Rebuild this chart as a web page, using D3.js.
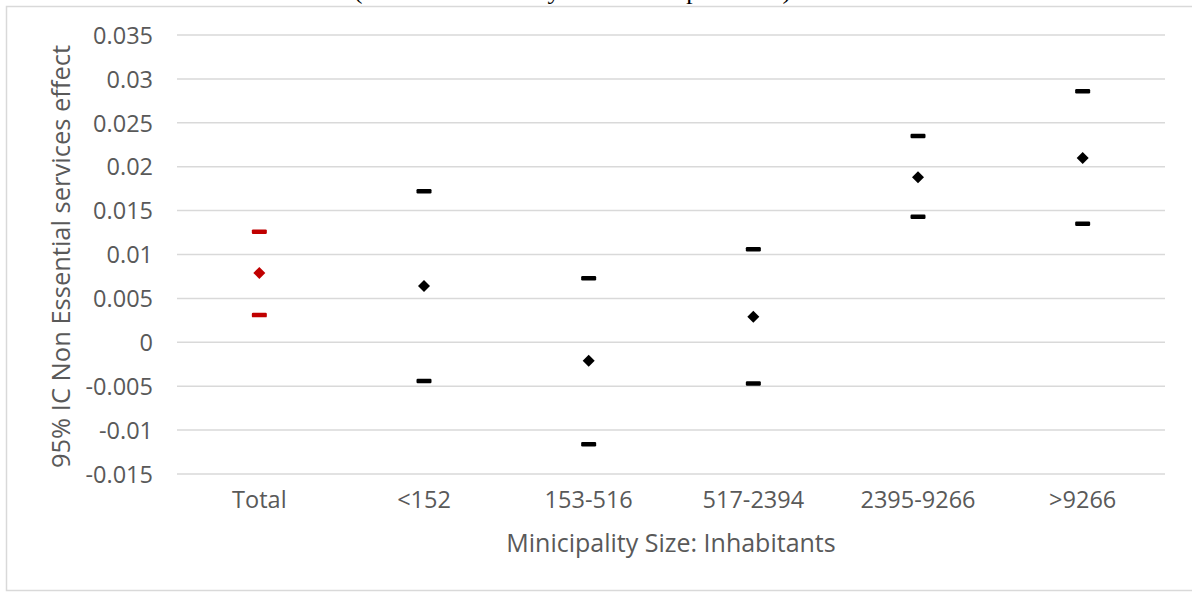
<!DOCTYPE html>
<html>
<head>
<meta charset="utf-8">
<script src="https://cdn.jsdelivr.net/npm/d3@7"></script>
<style>
  html, body { margin: 0; padding: 0; background: #fff; }
  svg { display: block; }
  text { font-family: "Open Sans", "Noto Sans", sans-serif; fill: #595959; }
</style>
</head>
<body>
<svg id="chart" width="1192" height="592"></svg>
<script>
// ---- data ----
const categories = ["Total", "<152", "153-516", "517-2394", "2395-9266", ">9266"];
const lowerCI   = [0.0031, -0.0044, -0.0116, -0.0047, 0.0143, 0.0135];
const estimate  = [0.0079, 0.0064, -0.0021, 0.0029, 0.0188, 0.0210];
const upperCI   = [0.0126, 0.0172, 0.0073, 0.0106, 0.0235, 0.0286];
const yTicks    = [-0.015, -0.01, -0.005, 0, 0.005, 0.01, 0.015, 0.02, 0.025, 0.03, 0.035];
const yTickLabels = ["-0.015", "-0.01", "-0.005", "0", "0.005", "0.01", "0.015", "0.02", "0.025", "0.03", "0.035"];
const xTitle = "Minicipality Size: Inhabitants";
const yTitle = "95% IC Non Essential services effect";
const topTitle = "(Estimated effect by Inhabitants per Town)";

const svg = d3.select("#chart");
const W = 1192, H = 592;
const plot = { left: 177, right: 1165, top: 35, bottom: 474 };

// outer chart border
svg.append("rect")
  .attr("x", 6.5).attr("y", 6.5)
  .attr("width", W + 10).attr("height", 584)
  .attr("fill", "none").attr("stroke", "#d9d9d9").attr("stroke-width", 1.5);

// title remnant, cut off by the top edge as in the reference
svg.append("text")
  .attr("x", 354).attr("y", -1)
  .attr("textLength", 437).attr("lengthAdjust", "spacingAndGlyphs")
  .style("font-family", "'Liberation Serif', serif")
  .style("font-size", "24px")
  .style("fill", "#000")
  .text(topTitle);

const x = d3.scaleBand().domain(categories).range([plot.left, plot.right]);
const y = d3.scaleLinear().domain([-0.015, 0.035]).range([plot.bottom, plot.top]);

// gridlines
svg.append("g")
  .selectAll("line").data(yTicks).join("line")
  .attr("x1", plot.left).attr("x2", plot.right)
  .attr("y1", d => y(d)).attr("y2", d => y(d))
  .attr("stroke", "#d9d9d9").attr("stroke-width", 1.5);

// y axis labels
const yAxis = d3.axisLeft(y).tickValues(yTicks)
  .tickFormat((d, i) => yTickLabels[i]).tickSize(0).tickPadding(0);
const gy = svg.append("g").attr("transform", `translate(153,0)`).call(yAxis);
gy.select(".domain").remove();
gy.selectAll("text").style("font-size", "23.5px").style("fill", "#595959")
  .style("font-family", "'Open Sans', sans-serif").attr("dy", "0.35em");

// x axis labels
const xAxis = d3.axisBottom(x).tickSize(0).tickPadding(0);
const gx = svg.append("g").attr("transform", `translate(0,${plot.bottom})`).call(xAxis);
gx.select(".domain").remove();
gx.selectAll("text").style("font-size", "23.5px").style("fill", "#595959")
  .style("font-family", "'Open Sans', sans-serif").attr("dy", null).attr("y", 34);

// axis titles
svg.append("text")
  .attr("x", (plot.left + plot.right) / 2).attr("y", 552)
  .attr("text-anchor", "middle").style("font-size", "25px")
  .text(xTitle);
svg.append("text")
  .attr("transform", `translate(70,${(plot.top + plot.bottom) / 2 + 2}) rotate(-90)`)
  .attr("text-anchor", "middle").style("font-size", "25.5px")
  .text(yTitle);

// marks
const color = (i) => i === 0 ? "#c00000" : "#000000";
const cx = (i) => x(categories[i]) + x.bandwidth() / 2;
const marks = svg.append("g");
const idx = d3.range(categories.length);

[lowerCI, upperCI].forEach(arr => {
  marks.append("g").selectAll("rect").data(idx).join("rect")
    .attr("x", i => cx(i) - 7.5).attr("y", i => y(arr[i]) - 2.25)
    .attr("width", 15).attr("height", 4.5).attr("rx", 1.2)
    .attr("fill", i => color(i));
});

const diamond = d3.symbol().type(d3.symbolSquare).size(72);
marks.append("g").selectAll("path").data(idx).join("path")
  .attr("d", diamond)
  .attr("transform", i => `translate(${cx(i)},${y(estimate[i])}) rotate(45)`)
  .attr("fill", i => color(i));
</script>
</body>
</html>
